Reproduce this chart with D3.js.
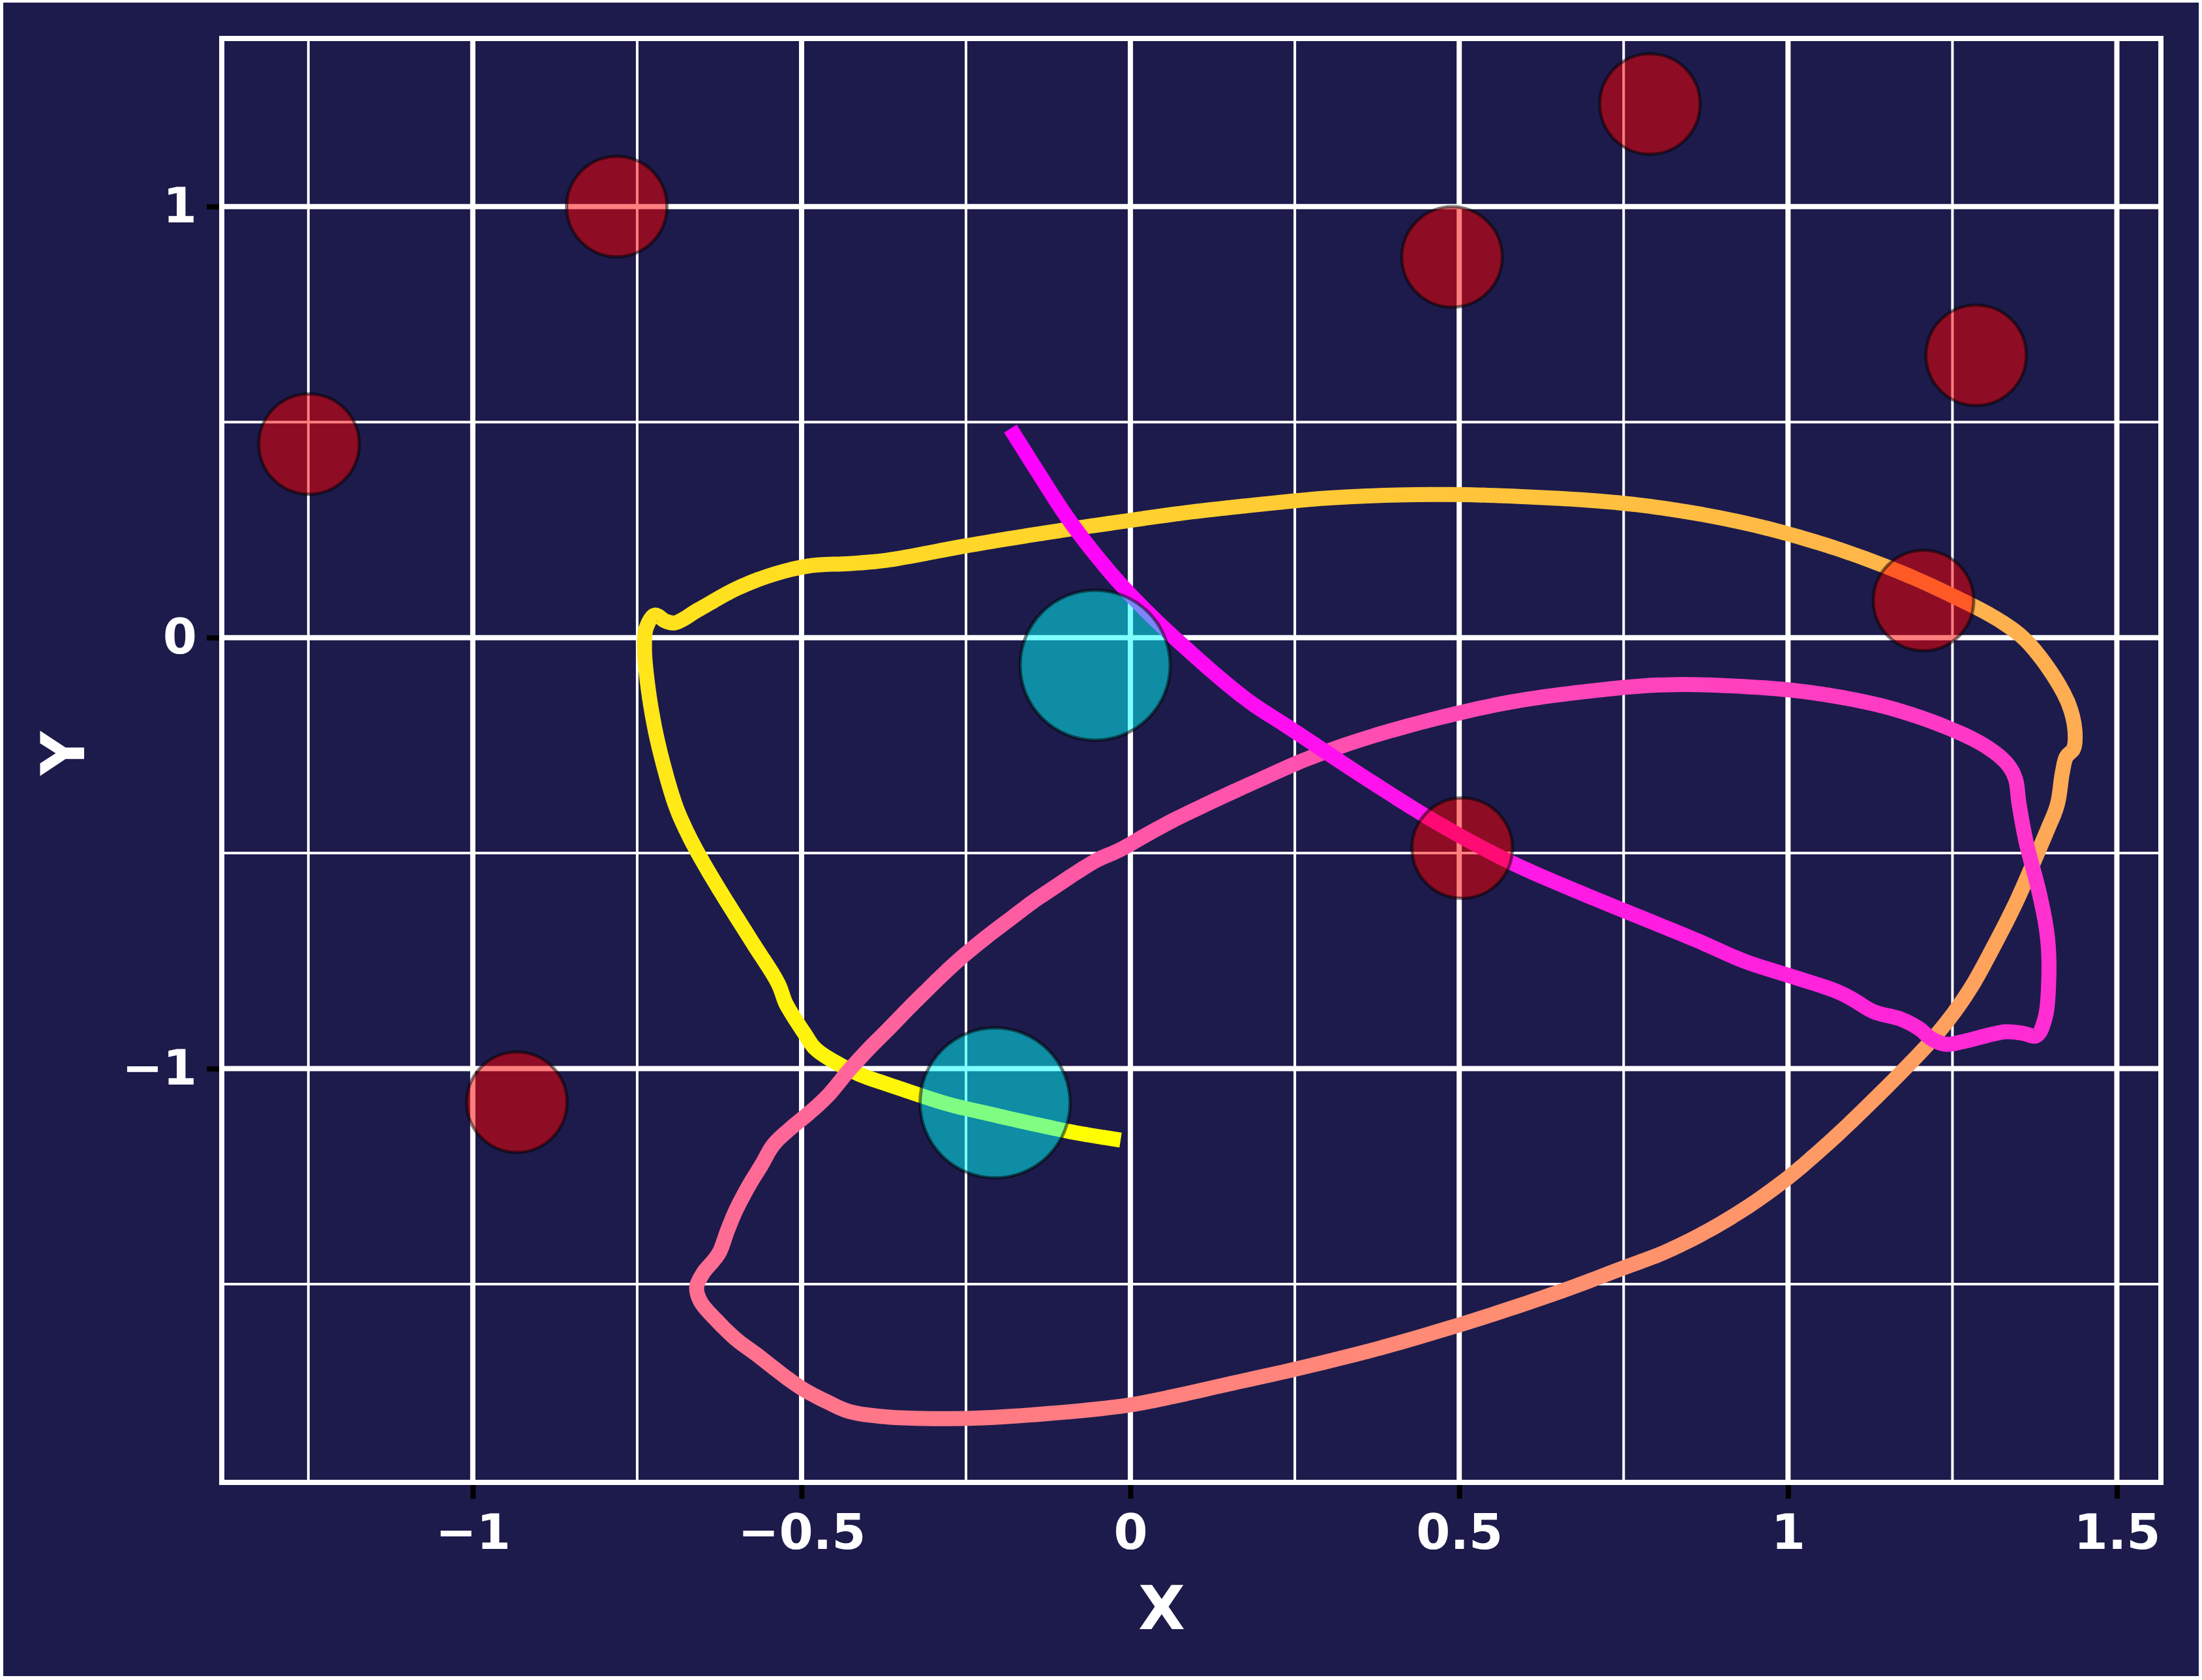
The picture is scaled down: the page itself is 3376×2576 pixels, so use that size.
<!DOCTYPE html>
<html><head><meta charset="utf-8">
<script src="https://cdn.jsdelivr.net/npm/d3@7"></script>
<style>html,body{margin:0;padding:0;background:#fff;} svg{display:block}</style>
</head><body>
<script>
// ---- data (in data units) ----
const pathX = [-0.0149,-0.0823,-0.1488,-0.2142,-0.2807,-0.3471,-0.4126,-0.4463,-0.4791,-0.4959,
 -0.5158,-0.5247,-0.5356,-0.5753,-0.6269,-0.6576,-0.6755,-0.6913,-0.7092,-0.7241,-0.7350,
 -0.7389,-0.7360,-0.7231,-0.7072,-0.6933,-0.6556,-0.5981,-0.5416,-0.4850,-0.4275,
 -0.3710,-0.2569,-0.1428,-0.0159,0.0913,0.1994,0.3065,0.4572,0.5753,0.7370,
 0.8451,0.9522,1.0593,1.1575,1.2388,1.3212,1.3618,1.4035,1.4273,1.4362,
 1.4342,1.4233,1.4174,1.4094,
 1.3946,1.3777,1.3460,1.3112,1.2795,1.2468,1.2121,1.1744,1.1277,1.0782,1.0385,0.9998,
 0.9393,0.8748,0.8104,0.7498,0.6685,0.5822,0.4920,0.3759,0.2440,0.1547,0.0665,-0.0050,-0.1438,
 -0.2519,-0.3660,-0.4285,-0.4602,-0.4979,-0.5237,
 -0.5683,-0.5991,-0.6308,-0.6536,-0.6596,-0.6497,-0.6348,-0.6249,-0.6120,-0.5991,
 -0.5802,-0.5614,-0.5426,-0.5178,-0.4890,-0.4592,-0.4295,-0.3997,-0.3700,-0.3402,
 -0.3134,-0.2807,-0.2509,-0.2142,-0.1815,-0.1488,-0.1151,-0.0823,-0.0496,-0.0159,
 0.0278,0.0665,0.1260,0.1954,0.2648,0.3541,0.4632,0.5802,0.6943,0.8084,
 0.9224,1.0365,1.1496,1.2408,1.3003,1.3341,1.3460,1.3509,1.3618,1.3827,
 1.3946,1.3965,1.3906,1.3777,1.3559,1.3311,1.3013,1.2666,1.2388,1.2170,
 1.1992,1.1724,1.1297,1.0980,1.0742,0.9988,0.9343,0.8639,0.7746,0.6943,
 0.5802,0.4672,0.3531,0.2390,0.1855,0.1448,0.0913,0.0377,-0.0109,-0.0526,
 -0.0962,-0.1418,-0.1825];
const pathY = [-1.1657,-1.1490,-1.1278,-1.1051,-1.0809,-1.0477,-1.0129,-0.9871,-0.9539,-0.9176,
 -0.8707,-0.8464,-0.8026,-0.7058,-0.5802,-0.5000,-0.4471,-0.3911,-0.3003,-0.2035,-0.0976,
 -0.0204,0.0234,0.0522,0.0386,0.0340,0.0658,0.1142,0.1475,0.1672,0.1717,
 0.1793,0.2110,0.2398,0.2685,0.2912,0.3094,0.3245,0.3321,0.3284,0.3136,
 0.2921,0.2595,0.2138,0.1599,0.1053,0.0401,-0.0068,-0.0885,-0.1566,-0.2141,
 -0.2579,-0.2761,-0.3109,-0.3880,
 -0.4455,-0.5061,-0.6165,-0.7209,-0.8086,-0.8812,-0.9448,-1.0053,-1.0764,-1.1490,-1.2035,-1.2534,
 -1.3200,-1.3790,-1.4274,-1.4622,-1.5091,-1.5545,-1.5983,-1.6498,-1.6997,-1.7300,-1.7602,-1.7814,-1.8026,
 -1.8116,-1.8086,-1.7950,-1.7738,-1.7436,-1.7163,
 -1.6634,-1.6286,-1.5817,-1.5408,-1.5076,-1.4743,-1.4470,-1.4259,-1.3729,-1.3260,
 -1.2716,-1.2247,-1.1762,-1.1399,-1.1036,-1.0613,-1.0068,-0.9569,-0.9115,-0.8646,
 -0.8238,-0.7753,-0.7345,-0.6891,-0.6513,-0.6135,-0.5787,-0.5454,-0.5151,-0.4924,
 -0.4546,-0.4228,-0.3790,-0.3306,-0.2837,-0.2352,-0.1884,-0.1490,-0.1248,-0.1097,
 -0.1127,-0.1278,-0.1611,-0.2080,-0.2519,-0.2943,-0.3290,-0.3820,-0.4728,-0.5968,
 -0.6967,-0.7920,-0.8843,-0.9236,-0.9176,-0.9145,-0.9236,-0.9372,-0.9433,-0.9297,
 -0.9070,-0.8858,-0.8676,-0.8389,-0.8207,-0.7829,-0.7511,-0.7042,-0.6483,-0.5983,
 -0.5227,-0.4304,-0.3215,-0.2065,-0.1536,-0.1051,-0.0340,0.0416,0.1172,0.1914,
 0.2791,0.3865,0.4849];

const redX = [-1.249,-0.781,0.489,0.790,1.286,1.206,0.5045,-0.933];
const redY = [0.449,1.000,0.883,1.238,0.655,0.086,-0.4884,-1.078];
const cyanX = [-0.0536,-0.2058];
const cyanY = [-0.064,-1.0795];

const xTicks = [-1,-0.5,0,0.5,1,1.5];
const xTickLabels = ["\u22121","\u22120.5","0","0.5","1","1.5"];
const yTicks = [-1,0,1];
const yTickLabels = ["\u22121","0","1"];
const xMinor = [-1.25,-0.75,-0.25,0.25,0.75,1.25];
const yMinor = [-1.5,-0.5,0.5];

// ---- layout ----
const W=3376,H=2576;
const L=340,R=3313,T=59,B=2273;
const BG="#1d1b4b";
const FONT="'DejaVu Sans', sans-serif";

const svg = d3.select('body').append('svg').attr('width',W).attr('height',H);
svg.append('rect').attr('width',W).attr('height',H).attr('fill','#ffffff');
svg.append('rect').attr('x',5).attr('y',4).attr('width',W-10).attr('height',H-10).attr('fill',BG);

const x = d3.scaleLinear().domain([-1.3817,1.567]).range([L,R]);
const y = d3.scaleLinear().domain([-1.960,1.390]).range([B,T]);

// grid
const grid = svg.append('g');
grid.selectAll('.vmin').data(xMinor).enter().append('line')
  .attr('x1',d=>x(d)).attr('x2',d=>x(d)).attr('y1',T).attr('y2',B)
  .attr('stroke','#fff').attr('stroke-width',4);
grid.selectAll('.hmin').data(yMinor).enter().append('line')
  .attr('y1',d=>y(d)).attr('y2',d=>y(d)).attr('x1',L).attr('x2',R)
  .attr('stroke','#fff').attr('stroke-width',4);
grid.selectAll('.vmaj').data(xTicks).enter().append('line')
  .attr('x1',d=>x(d)).attr('x2',d=>x(d)).attr('y1',T).attr('y2',B)
  .attr('stroke','#fff').attr('stroke-width',8);
grid.selectAll('.hmaj').data(yTicks).enter().append('line')
  .attr('y1',d=>y(d)).attr('y2',d=>y(d)).attr('x1',L).attr('x2',R)
  .attr('stroke','#fff').attr('stroke-width',8);

// gradient line (spring colormap, reversed: yellow -> magenta)
function springR(t){
  return d3.rgb(255, Math.round(255*(1-t)), Math.round(255*t)).toString();
}
const pts = pathX.map((v,i)=>[x(v), y(pathY[i])]);
const lineGen = d3.line().curve(d3.curveCatmullRom.alpha(0.5));
const dStr = lineGen(pts);
const tmp = svg.append('path').attr('d',dStr).attr('fill','none');
const total = tmp.node().getTotalLength();
tmp.remove();
const N = 420;
const lg = svg.append('g');
for (let i=0;i<N;i++){
  const s = total*i/N;
  const len = total/N + 0.9;
  const t = i/(N-1);
  lg.append('path').attr('d',dStr).attr('fill','none')
    .attr('stroke',springR(t)).attr('stroke-width',23)
    .attr('stroke-linecap','butt')
    .attr('stroke-dasharray',`0 ${s.toFixed(2)} ${len.toFixed(2)} ${(total*2).toFixed(0)}`);
}

// circles
const cg = svg.append('g');
cg.selectAll('.red').data(redX).enter().append('circle')
  .attr('cx',d=>x(d)).attr('cy',(d,i)=>y(redY[i])).attr('r',77)
  .attr('fill','#ff0000').attr('fill-opacity',0.5)
  .attr('stroke','#000').attr('stroke-opacity',0.5).attr('stroke-width',5);
cg.selectAll('.cyan').data(cyanX).enter().append('circle')
  .attr('cx',d=>x(d)).attr('cy',(d,i)=>y(cyanY[i])).attr('r',115)
  .attr('fill','#00ffff').attr('fill-opacity',0.5)
  .attr('stroke','#000').attr('stroke-opacity',0.5).attr('stroke-width',5);

// axes
const xAxis = d3.axisBottom(x).tickValues(xTicks).tickFormat((d,i)=>xTickLabels[i])
  .tickSize(25).tickPadding(24);
const yAxis = d3.axisLeft(y).tickValues(yTicks).tickFormat((d,i)=>yTickLabels[i])
  .tickSize(23).tickPadding(15);
const gx = svg.append('g').attr('transform',`translate(0,${B})`).call(xAxis);
const gy = svg.append('g').attr('transform',`translate(${L},0)`).call(yAxis);
[gx,gy].forEach(g=>{
  g.select('.domain').remove();
  g.selectAll('.tick line').attr('stroke','#000').attr('stroke-width',8);
  g.selectAll('.tick text').attr('fill','#fff').style('font-family',FONT)
    .style('font-weight','bold').style('font-size','75px');
});

// spines
svg.append('rect').attr('x',L).attr('y',T).attr('width',R-L).attr('height',B-T)
  .attr('fill','none').attr('stroke','#fff').attr('stroke-width',8);

// axis labels
svg.append('text').attr('x',1781).attr('y',2498).attr('text-anchor','middle')
  .attr('fill','#fff').style('font-family',FONT).style('font-weight','bold')
  .style('font-size','93px').text('X');
svg.append('text').attr('transform','translate(129,1155) rotate(-90)')
  .attr('text-anchor','middle')
  .attr('fill','#fff').style('font-family',FONT).style('font-weight','bold')
  .style('font-size','93px').text('Y');
</script>
</body></html>
